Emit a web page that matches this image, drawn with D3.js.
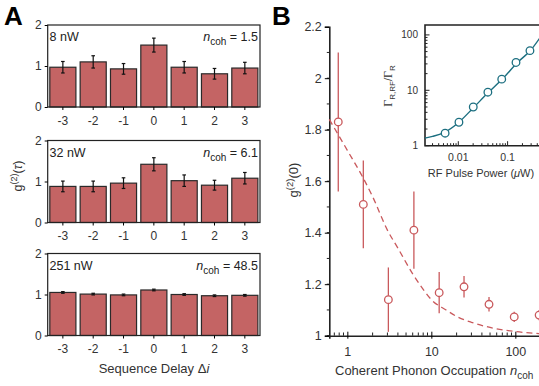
<!DOCTYPE html>
<html>
<head>
<meta charset="utf-8">
<script src="https://cdn.jsdelivr.net/npm/d3@7"></script>
<style>
  body { margin: 0; background: #fff; }
  svg { display: block; font-family: "Liberation Sans", Arial, sans-serif; }
</style>
</head>
<body>
<svg id="chart" width="539" height="386"></svg>
<script>
// panel A data
let delays = [-3, -2, -1, 0, 1, 2, 3];
let powers = ["8 nW", "32 nW", "251 nW"];
let ncohValues = ["1.5", "6.1", "48.5"];
let g2_8nW = [0.97, 1.10, 0.93, 1.51, 0.97, 0.81, 0.95];
let err_8nW = [0.14, 0.15, 0.13, 0.17, 0.14, 0.13, 0.14];
let g2_32nW = [0.88, 0.88, 0.96, 1.42, 1.02, 0.91, 1.08];
let err_32nW = [0.13, 0.13, 0.13, 0.16, 0.14, 0.12, 0.14];
let g2_251nW = [1.05, 1.01, 0.99, 1.11, 1.00, 0.97, 0.98];
let err_251nW = [0.02, 0.02, 0.02, 0.02, 0.02, 0.02, 0.02];

// panel B data
let nCoh = [0.78, 1.55, 3.08, 6.2, 12.4, 24.5, 48.6, 97, 192];
let g2zero = [1.83, 1.51, 1.14, 1.41, 1.167, 1.19, 1.122, 1.073, 1.08];
let g2zeroErr = [0.27, 0.17, 0.125, 0.15, 0.08, 0.042, 0.028, 0.02, 0.02];
let fitN = [0.61, 1, 1.5, 2, 3, 4, 6, 8, 10, 15, 20, 30, 50, 100, 220];
let fitG = [1.84, 1.72, 1.62, 1.54, 1.41, 1.34, 1.24, 1.18, 1.14, 1.10, 1.075, 1.052, 1.032, 1.016, 1.007];

// inset data
let rfPower = [0.0054, 0.0103, 0.0201, 0.0398, 0.076, 0.148, 0.284];
let gammaRatio = [1.68, 2.65, 5.0, 9.25, 15.9, 31.8, 52];
let gammaFitP = [0.0021, 0.003, 0.005, 0.01, 0.02, 0.04, 0.08, 0.16, 0.3, 0.45];
let gammaFitR = [1.37, 1.47, 1.7, 2.6, 4.8, 9.0, 16.3, 32, 54, 88];

let red = "#c9595c", barFill = "#c46464", teal = "#1c6f80";
let svg = d3.select("#chart");

// ---------- panel A ----------
let panelData = [
  { g: g2_8nW, e: err_8nW },
  { g: g2_32nW, e: err_32nW },
  { g: g2_251nW, e: err_251nW }
];
let tops = [25, 140.5, 253.5], ph = 82;
let xA = d3.scaleBand().domain(delays).range([47.7, 260]).paddingInner(0.14).paddingOuter(0.07);

panelData.forEach((p, i) => {
  let y = d3.scaleLinear().domain([0, 2]).range([tops[i] + ph, tops[i]]);
  let g = svg.append("g");
  let rows = delays.map((d, j) => ({ d: d, v: p.g[j], e: p.e[j] }));

  g.selectAll("rect.bar").data(rows).enter().append("rect")
    .attr("class", "bar")
    .attr("x", d => xA(d.d)).attr("width", xA.bandwidth())
    .attr("y", d => y(d.v)).attr("height", d => y(0) - y(d.v))
    .attr("fill", barFill).attr("stroke", "#2a2a2a").attr("stroke-width", 1.2);

  rows.forEach(d => {
    let cx = xA(d.d) + xA.bandwidth() / 2;
    g.append("line").attr("x1", cx).attr("x2", cx).attr("y1", y(d.v + d.e)).attr("y2", y(d.v - d.e))
      .attr("stroke", "#111").attr("stroke-width", 1.2);
    [d.v + d.e, d.v - d.e].forEach(v => g.append("line")
      .attr("x1", cx - 1.8).attr("x2", cx + 1.8).attr("y1", y(v)).attr("y2", y(v))
      .attr("stroke", "#111").attr("stroke-width", 1.2));
  });

  g.append("rect").attr("x", 47.7).attr("y", tops[i]).attr("width", 260 - 47.7).attr("height", ph)
    .attr("fill", "none").attr("stroke", "#222").attr("stroke-width", 1.2);

  let yAxis = d3.axisLeft(y).tickValues([0, 1, 2]).tickSize(3).tickPadding(3).tickFormat(d3.format("d"));
  let ya = g.append("g").attr("transform", "translate(47.7,0)").call(yAxis);
  ya.select(".domain").remove();
  ya.selectAll("text").attr("font-size", 12).attr("fill", "#333").style("font-family", "Liberation Sans, Arial");

  let xAxis = d3.axisBottom(xA).tickSize(3).tickPadding(6);
  let xa = g.append("g").attr("transform", `translate(0,${tops[i] + ph})`).call(xAxis);
  xa.select(".domain").remove();
  xa.selectAll("text").attr("font-size", 12).attr("fill", "#333").style("font-family", "Liberation Sans, Arial");

  g.append("text").attr("x", 49.5).attr("y", tops[i] + 16).attr("font-size", 12.5).attr("fill", "#222").text(powers[i]);
  let t = g.append("text").attr("x", 258).attr("y", tops[i] + 16).attr("font-size", 12.5).attr("fill", "#222")
    .attr("text-anchor", "end");
  t.append("tspan").attr("font-style", "italic").text("n");
  t.append("tspan").attr("font-size", 10).attr("dy", 4).text("coh");
  t.append("tspan").attr("dy", -4).text(" = " + ncohValues[i]);
});

// y label panel A
let ylA = svg.append("text").attr("transform", "translate(22,176) rotate(-90)").attr("text-anchor", "middle")
  .attr("font-size", 12.5).attr("fill", "#333");
ylA.append("tspan").text("g");
ylA.append("tspan").attr("font-size", 9).attr("dy", -5).text("(2)");
ylA.append("tspan").attr("dy", 5).text("(");
ylA.append("tspan").attr("font-style", "italic").text("τ");
ylA.append("tspan").text(")");

let xlA = svg.append("text").attr("x", 154).attr("y", 373).attr("text-anchor", "middle")
  .attr("font-size", 13).attr("fill", "#333");
xlA.append("tspan").text("Sequence Delay Δ");
xlA.append("tspan").attr("font-style", "italic").text("i");

svg.append("text").attr("x", 4).attr("y", 25).attr("font-size", 26).attr("font-weight", "bold").text("A");
svg.append("text").attr("x", 272).attr("y", 25).attr("font-size", 26).attr("font-weight", "bold").text("B");

// ---------- panel B ----------
let x0 = 329.3, dec = 84;
let xB = d3.scaleLog().domain([0.61, 220]).range([x0, x0 + dec * Math.log10(220 / 0.61)]);
let yB = d3.scaleLinear().domain([1, 2.2]).range([335.7, 26.7]);
let gB = svg.append("g");

// y axis
let yMinor = d3.range(10, 22).map(d => d / 10);
gB.selectAll("line.ymin").data(yMinor).enter().append("line")
  .attr("x1", x0 - 2.5).attr("x2", x0).attr("y1", d => yB(d)).attr("y2", d => yB(d)).attr("stroke", "#222");
let yAxB = gB.append("g").attr("transform", `translate(${x0},0)`)
  .call(d3.axisLeft(yB).tickValues([1, 1.2, 1.4, 1.6, 1.8, 2, 2.2]).tickSize(4.5).tickPadding(3).tickFormat(d => d3.format("")(d)));
yAxB.select(".domain").attr("stroke-width", 1.6).attr("stroke", "#222");
yAxB.selectAll("text").attr("font-size", 12.5).attr("fill", "#333").style("font-family", "Liberation Sans, Arial");

// x axis
let xMinor = [];
[0.1, 1, 10, 100].forEach(b => { for (let k = 2; k <= 9; k++) xMinor.push(b * k); });
xMinor = xMinor.filter(v => v > 0.61 && v < 220);
gB.selectAll("line.xmin").data(xMinor).enter().append("line")
  .attr("x1", d => xB(d)).attr("x2", d => xB(d)).attr("y1", 335.7).attr("y2", 332.5).attr("stroke", "#222");
let xAxB = gB.append("g").attr("transform", "translate(0,335.7)")
  .call(d3.axisBottom(xB).tickValues([1, 10, 100]).tickSize(3).tickPadding(8).tickFormat(d3.format("d")));
xAxB.select(".domain").attr("stroke-width", 1.6).attr("stroke", "#222");
xAxB.selectAll(".tick line").attr("y1", -4);
xAxB.selectAll("text").attr("font-size", 12.5).attr("fill", "#333").style("font-family", "Liberation Sans, Arial");

// fit curve
let fitLine = d3.line().x(d => xB(d[0])).y(d => yB(d[1])).curve(d3.curveMonotoneX);
gB.append("path").datum(fitN.map((n, i) => [n, fitG[i]]))
  .attr("d", fitLine).attr("fill", "none").attr("stroke", red).attr("stroke-width", 1.3)
  .attr("stroke-dasharray", "6,4");

// data
let pts = nCoh.map((n, i) => ({ n: n, g: g2zero[i], e: g2zeroErr[i] }));
gB.selectAll("line.err").data(pts).enter().append("line")
  .attr("x1", d => xB(d.n)).attr("x2", d => xB(d.n))
  .attr("y1", d => yB(d.g + d.e)).attr("y2", d => yB(d.g - d.e))
  .attr("stroke", red).attr("stroke-width", 1.3);
gB.selectAll("circle.pt").data(pts).enter().append("circle")
  .attr("cx", d => xB(d.n)).attr("cy", d => yB(d.g)).attr("r", 3.8)
  .attr("fill", "#fff").attr("stroke", red).attr("stroke-width", 1.3);

let ylB = svg.append("text").attr("transform", "translate(298,180) rotate(-90)").attr("text-anchor", "middle")
  .attr("font-size", 13).attr("fill", "#333");
ylB.append("tspan").text("g");
ylB.append("tspan").attr("font-size", 9.5).attr("dy", -5).text("(2)");
ylB.append("tspan").attr("dy", 5).text("(0)");

let xlB = svg.append("text").attr("x", 335).attr("y", 375).attr("font-size", 13).attr("fill", "#333");
xlB.append("tspan").text("Coherent Phonon Occupation ");
xlB.append("tspan").attr("font-style", "italic").text("n");
xlB.append("tspan").attr("font-size", 10).attr("dy", 4).text("coh");

// ---------- inset ----------
let ix0 = 425, idec = 49.3, iy0 = 145.7, iydec = 55.35;
let xI = d3.scaleLog().domain([0.00211, 0.6]).range([ix0, 458.3 + idec * Math.log10(60)]);
let yI = d3.scaleLog().domain([1, 151]).range([iy0, 25]);
let gI = svg.append("g");
gI.append("rect").attr("x", ix0).attr("y", 25).attr("width", 120).attr("height", iy0 - 25).attr("fill", "#fff");

let iyMinor = [];
[1, 10, 100].forEach(b => { for (let k = 2; k <= 9; k++) iyMinor.push(b * k); });
iyMinor = iyMinor.filter(v => v < 151);
gI.selectAll("line.iym").data(iyMinor).enter().append("line")
  .attr("x1", ix0).attr("x2", ix0 + 2.5).attr("y1", d => yI(d)).attr("y2", d => yI(d)).attr("stroke", "#222");
gI.selectAll("line.iyM").data([1, 10, 100]).enter().append("line")
  .attr("x1", ix0).attr("x2", ix0 + 4.5).attr("y1", d => yI(d)).attr("y2", d => yI(d)).attr("stroke", "#222");
let ixMinor = [];
[0.001, 0.01, 0.1].forEach(b => { for (let k = 2; k <= 9; k++) ixMinor.push(b * k); });
ixMinor = ixMinor.filter(v => v > 0.00211 && v < 0.6);
gI.selectAll("line.ixm").data(ixMinor).enter().append("line")
  .attr("x1", d => xI(d)).attr("x2", d => xI(d)).attr("y1", iy0).attr("y2", iy0 - 2.5).attr("stroke", "#222");
gI.selectAll("line.ixM").data([0.01, 0.1]).enter().append("line")
  .attr("x1", d => xI(d)).attr("x2", d => xI(d)).attr("y1", iy0).attr("y2", iy0 - 4.5).attr("stroke", "#222");

gI.selectAll("text.iyl").data([1, 10, 100]).enter().append("text")
  .attr("x", ix0 - 7).attr("y", d => yI(d) + 3.5).attr("text-anchor", "end")
  .attr("font-size", 10).attr("fill", "#333").text(d => d);
gI.selectAll("text.ixl").data([0.01, 0.1]).enter().append("text")
  .attr("x", d => xI(d)).attr("y", iy0 + 15).attr("text-anchor", "middle")
  .attr("font-size", 10.5).attr("fill", "#333").text(d => d);

gI.append("path").attr("d", `M${ix0 + 120},25H${ix0}V${iy0}H${ix0 + 120}`)
  .attr("fill", "none").attr("stroke", "#222").attr("stroke-width", 1.6);

let iLine = d3.line().x(d => xI(d[0])).y(d => yI(d[1])).curve(d3.curveMonotoneX);
gI.append("path").datum(gammaFitP.map((p, i) => [p, gammaFitR[i]]))
  .attr("d", iLine).attr("fill", "none").attr("stroke", teal).attr("stroke-width", 1.4);
gI.selectAll("circle.ip").data(rfPower.map((p, i) => [p, gammaRatio[i]])).enter().append("circle")
  .attr("cx", d => xI(d[0])).attr("cy", d => yI(d[1])).attr("r", 3.8)
  .attr("fill", "#fff").attr("stroke", teal).attr("stroke-width", 1.3);

let ixl = svg.append("text").attr("x", 481).attr("y", 177).attr("text-anchor", "middle")
  .attr("font-size", 11).attr("fill", "#333");
ixl.append("tspan").text("RF Pulse Power (");
ixl.append("tspan").attr("font-style", "italic").text("μ");
ixl.append("tspan").text("W)");

let iyl = svg.append("text").attr("transform", "translate(392,86) rotate(-90)").attr("text-anchor", "middle")
  .attr("font-size", 11).attr("fill", "#333");
iyl.append("tspan").attr("font-family", "Liberation Serif, serif").attr("font-size", 12).text("Γ");
iyl.append("tspan").attr("font-size", 8).attr("dy", 3).text("R,RF");
iyl.append("tspan").attr("dy", -3).text("/");
iyl.append("tspan").attr("font-family", "Liberation Serif, serif").attr("font-size", 12).text("Γ");
iyl.append("tspan").attr("font-size", 8).attr("dy", 3).text("R");
</script>
</body>
</html>
